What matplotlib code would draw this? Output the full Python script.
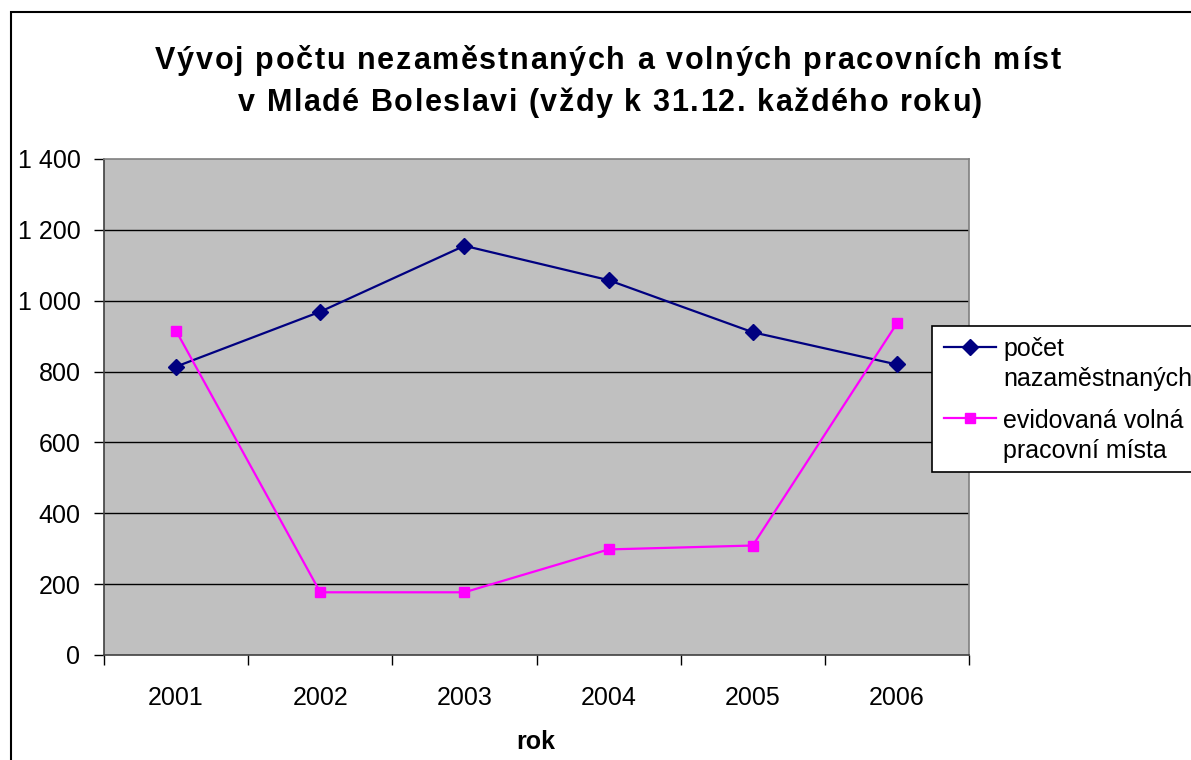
import matplotlib
matplotlib.use("Agg")
import matplotlib.pyplot as plt
from matplotlib.patches import Rectangle
from matplotlib.lines import Line2D
from matplotlib.ticker import FuncFormatter, FixedLocator
from matplotlib.font_manager import FontProperties, findfont, get_font

years = ["2001", "2002", "2003", "2004", "2005", "2006"]
nezamestnani = [814, 969, 1155, 1058, 911, 820]
volna_mista = [915, 177, 177, 298, 309, 936]
label_1 = ["počet", "nazaměstnaných"]
label_2 = ["evidovaná volná", "pracovní místa"]
title_lines = ["Vývoj počtu nezaměstnaných a volných pracovních míst",
               "v Mladé Boleslavi (vždy k 31.12. každého roku)"]
xlabel = "rok"

plt.rcParams['font.family'] = ['Liberation Sans', 'DejaVu Sans']

W, H = 1191, 760
DPI = 100
fig = plt.figure(figsize=(W / DPI, H / DPI), dpi=DPI)
fig.patch.set_facecolor("white")

def fx(px):
    return px / W

def fy(py):
    return 1 - py / H

# outer chart frame (continues past right and bottom edges)
fig.patches.append(Rectangle((fx(11), -0.1), 1.2, fy(12) + 0.1,
                             transform=fig.transFigure, fill=False,
                             edgecolor="black", linewidth=1.5))

ax = fig.add_axes([fx(104), fy(655), (969 - 104) / W, (655 - 159) / H])
ax.set_facecolor("#C0C0C0")

blue = "#000080"
pink = "#FF00FF"
x = list(range(len(years)))
ax.plot(x, nezamestnani, color=blue, marker="D", markersize=8,
        linewidth=1.6, zorder=3, clip_on=False)
ax.plot(x, volna_mista, color=pink, marker="s", markersize=7.5,
        linewidth=1.6, zorder=3, clip_on=False)

ax.set_xlim(-0.5, len(years) - 0.5)
ax.set_ylim(0, 1400)
ax.set_yticks(range(0, 1401, 200))
ax.yaxis.set_major_formatter(FuncFormatter(lambda v, p: f"{int(v):,}".replace(",", " ")))
for yv in range(200, 1400, 200):
    ax.axhline(yv, color="black", linewidth=1.0, zorder=1)

ax.xaxis.set_major_locator(FixedLocator([i - 0.5 for i in range(len(years) + 1)]))
ax.xaxis.set_major_formatter(FuncFormatter(lambda v, p: ""))
ax.xaxis.set_minor_locator(FixedLocator(x))
ax.set_xticklabels(years, minor=True)
ax.tick_params(axis="x", which="major", length=7, width=1, color="black")
ax.tick_params(axis="x", which="minor", length=0, labelsize=18, pad=22)
ax.tick_params(axis="y", length=7, width=1, color="black", labelsize=18, pad=10)

for s in ["top", "right"]:
    ax.spines[s].set_color("#808080")
    ax.spines[s].set_linewidth(1.2)
for s in ["left", "bottom"]:
    ax.spines[s].set_color("#404040")
    ax.spines[s].set_linewidth(1.2)

# title with letter spacing (tracked to the reference width)
tsize = 22
tprop = FontProperties(family="Liberation Sans", weight="bold", size=tsize)
tfont = get_font(findfont(tprop))
tfont.set_size(tsize, DPI)

def char_offsets(s):
    xs, pos = [], 0.0
    for c in s:
        xs.append(pos)
        g = tfont.load_char(ord(c))
        pos += g.linearHoriAdvance / 65536
    return xs, pos

title_spans = [(155, 1061, 69), (238, 982, 111)]
for line, (x0, x1, base) in zip(title_lines, title_spans):
    xs, total = char_offsets(line)
    track = ((x1 - x0) - total) / (len(line) - 1)
    for i, c in enumerate(line):
        if c == " ":
            continue
        fig.text(fx(x0 + xs[i] + i * track), fy(base), c, ha="left",
                 va="baseline", fontproperties=tprop)

fig.text(fx(536), fy(742), xlabel, ha="center", va="center",
         fontsize=18, fontweight="bold")

# legend box (clipped by the figure edge like the reference)
fig.patches.append(Rectangle((fx(932), fy(472)), 0.5, (472 - 326) / H,
                             transform=fig.transFigure, facecolor="white",
                             edgecolor="black", linewidth=1.2, zorder=5))
entries = [(label_1, blue, "D", 8, 347, 356),
           (label_2, pink, "s", 7.5, 418, 428)]
for lab, col, mk, ms, hy, base in entries:
    fig.add_artist(Line2D([fx(944), fx(996)], [fy(hy), fy(hy)],
                          transform=fig.transFigure, color=col,
                          linewidth=1.6, zorder=6))
    fig.add_artist(Line2D([fx(970)], [fy(hy)], transform=fig.transFigure,
                          color=col, marker=mk, markersize=ms, zorder=7))
    for j, t in enumerate(lab):
        fig.text(fx(1003), fy(base + 30 * j), t, ha="left", va="baseline",
                 fontsize=18, zorder=7)

fig.savefig("out.png", dpi=DPI)
